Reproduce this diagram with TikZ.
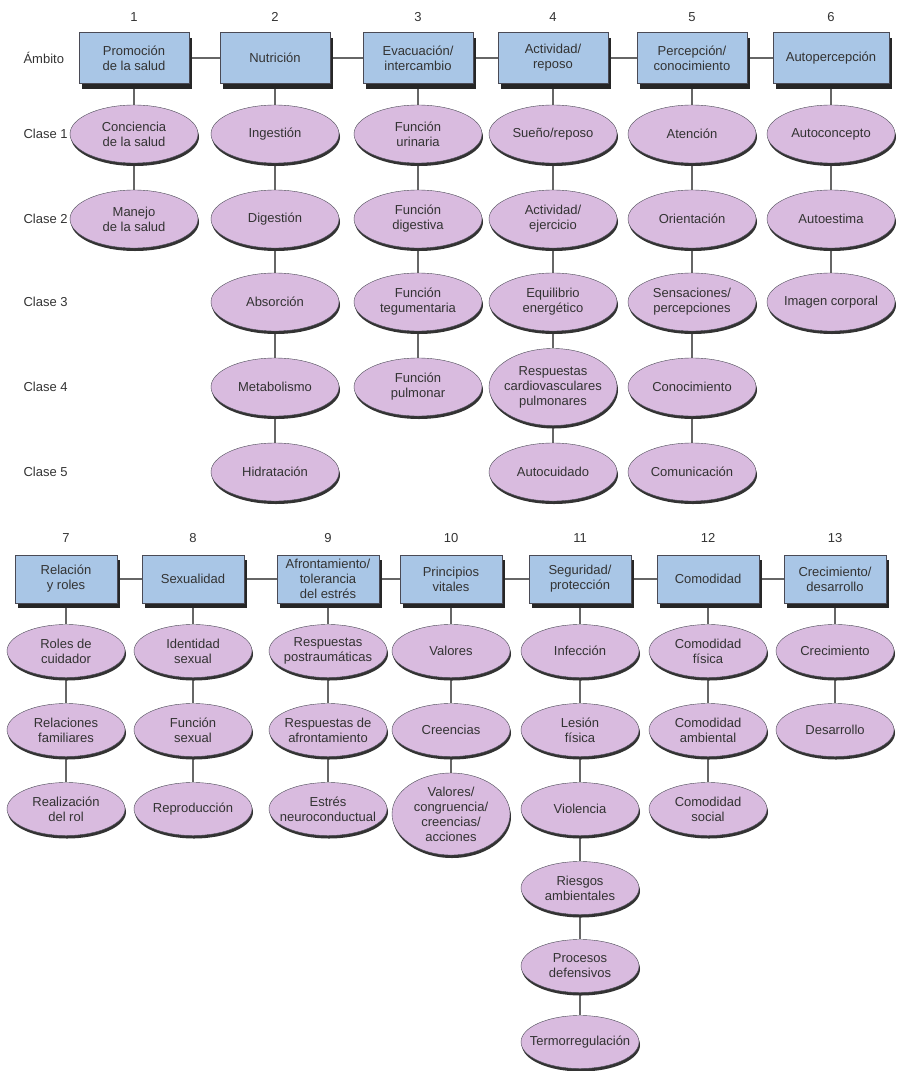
\documentclass[tikz,border=0pt]{standalone}
\usepackage{fontspec}
\setmainfont{Liberation Sans}
\usetikzlibrary{shapes.geometric,shadows,backgrounds}
\definecolor{azulamb}{HTML}{A9C6E6}
\definecolor{lilaclase}{HTML}{D9BBDF}
\definecolor{bordegris}{HTML}{4A4A55}
\definecolor{textogris}{HTML}{333333}

\begin{document}
\begin{tikzpicture}[x=1pt,y=-1pt,
  ambito/.style={rectangle,draw=bordegris,fill=azulamb,minimum width=110pt,minimum height=51pt,inner sep=1pt,align=center,
    drop shadow={shadow xshift=3pt,shadow yshift=-5pt,fill=black!85,opacity=1}},
  clase/.style={ellipse,draw=bordegris,fill=lilaclase,minimum width=128pt,minimum height=58pt,inner xsep=-16pt,inner ysep=-10pt,align=center,
    drop shadow={shadow xshift=1pt,shadow yshift=-3pt,fill=black!80,opacity=1}},
  enlace/.style={draw=black!60,line width=1.1pt}]%
        \useasboundingbox (0,0) rectangle (897,1071);%%
        \tikzstyle{every node}=[font=\fontsize{13}{15}\selectfont,text=textogris] %%
        % rotulos de fila
        \node[anchor=west] (lamb) at (20,58) {Ámbito}; %%
        \node[anchor=west] (lc1) at (20,134) {Clase 1}; %%
        \node[anchor=west] (lc2) at (20,219) {Clase 2}; %%
        \node[anchor=west] (lc3) at (20,302) {Clase 3}; %%
        \node[anchor=west] (lc4) at (20,387) {Clase 4}; %%
        \node[anchor=west] (lc5) at (20,472) {Clase 5}; %%
        % numeros
        \node (n1) at (134,17) {1}; %%
        \node (n2) at (275,17) {2}; %%
        \node (n3) at (418,17) {3}; %%
        \node (n4) at (553,17) {4}; %%
        \node (n5) at (692,17) {5}; %%
        \node (n6) at (831,17) {6}; %%
        \node (n7) at (66,538) {7}; %%
        \node (n8) at (193,538) {8}; %%
        \node (n9) at (328,538) {9}; %%
        \node (n10) at (451,538) {10}; %%
        \node (n11) at (580,538) {11}; %%
        \node (n12) at (708,538) {12}; %%
        \node (n13) at (835,538) {13}; %%
        % dominios 1-6
        \node[ambito] (d1) at (134,58) {Promoción\\de la salud}; %%
        \node[ambito] (d2) at (275,58) {Nutrición}; %%
        \node[ambito] (d3) at (418,58) {Evacuación/\\intercambio}; %%
        \node[ambito] (d4) at (553,58) {Actividad/\\reposo}; %%
        \node[ambito] (d5) at (692,58) {Percepción/\\conocimiento}; %%
        \node[ambito,minimum width=116pt] (d6) at (831,58) {Autopercepción}; %%
        % clases 1-6
        \node[clase] (c1r1) at (134,134) {Conciencia\\de la salud}; %%
        \node[clase] (c1r2) at (134,219) {Manejo\\de la salud}; %%
        \node[clase] (c2r1) at (275,134) {Ingestión}; %%
        \node[clase] (c2r2) at (275,219) {Digestión}; %%
        \node[clase] (c2r3) at (275,302) {Absorción}; %%
        \node[clase] (c2r4) at (275,387) {Metabolismo}; %%
        \node[clase] (c2r5) at (275,472) {Hidratación}; %%
        \node[clase] (c3r1) at (418,134) {Función\\urinaria}; %%
        \node[clase] (c3r2) at (418,219) {Función\\digestiva}; %%
        \node[clase] (c3r3) at (418,302) {Función\\tegumentaria}; %%
        \node[clase] (c3r4) at (418,387) {Función\\pulmonar}; %%
        \node[clase] (c4r1) at (553,134) {Sueño/reposo}; %%
        \node[clase] (c4r2) at (553,219) {Actividad/\\ejercicio}; %%
        \node[clase] (c4r3) at (553,302) {Equilibrio\\energético}; %%
        \node[clase,minimum height=77pt] (c4r4) at (553,387) {Respuestas\\cardiovasculares\\pulmonares}; %%
        \node[clase] (c4r5) at (553,472) {Autocuidado}; %%
        \node[clase] (c5r1) at (692,134) {Atención}; %%
        \node[clase] (c5r2) at (692,219) {Orientación}; %%
        \node[clase] (c5r3) at (692,302) {Sensaciones/\\percepciones}; %%
        \node[clase] (c5r4) at (692,387) {Conocimiento}; %%
        \node[clase] (c5r5) at (692,472) {Comunicación}; %%
        \node[clase] (c6r1) at (831,134) {Autoconcepto}; %%
        \node[clase] (c6r2) at (831,219) {Autoestima}; %%
        \node[clase] (c6r3) at (831,302) {Imagen corporal}; %%
        \begin{scope}[ambito/.append style={minimum width=102pt,minimum height=48pt},
                      clase/.append style={minimum width=118pt,minimum height=53pt}]
        % dominios 7-13
        \node[ambito] (d7) at (66,579) {Relación\\y roles}; %%
        \node[ambito] (d8) at (193,579) {Sexualidad}; %%
        \node[ambito] (d9) at (328,579) {Afrontamiento/\\tolerancia\\del estrés}; %%
        \node[ambito] (d10) at (451,579) {Principios\\vitales}; %%
        \node[ambito] (d11) at (580,579) {Seguridad/\\protección}; %%
        \node[ambito] (d12) at (708,579) {Comodidad}; %%
        \node[ambito] (d13) at (835,579) {Crecimiento/\\desarrollo}; %%
        % clases 7-13
        \node[clase] (c7r1) at (66,651) {Roles de\\cuidador}; %%
        \node[clase] (c7r2) at (66,730) {Relaciones\\familiares}; %%
        \node[clase] (c7r3) at (66,809) {Realización\\del rol}; %%
        \node[clase] (c8r1) at (193,651) {Identidad\\sexual}; %%
        \node[clase] (c8r2) at (193,730) {Función\\sexual}; %%
        \node[clase] (c8r3) at (193,809) {Reproducción}; %%
        \node[clase] (c9r1) at (328,651) {Respuestas\\postraumáticas}; %%
        \node[clase] (c9r2) at (328,730) {Respuestas de\\afrontamiento}; %%
        \node[clase] (c9r3) at (328,809) {Estrés\\neuroconductual}; %%
        \node[clase] (c10r1) at (451,651) {Valores}; %%
        \node[clase] (c10r2) at (451,730) {Creencias}; %%
        \node[clase,minimum height=82pt] (c10r3) at (451,814) {Valores/\\congruencia/\\creencias/\\acciones}; %%
        \node[clase] (c11r1) at (580,651) {Infección}; %%
        \node[clase] (c11r2) at (580,730) {Lesión\\física}; %%
        \node[clase] (c11r3) at (580,809) {Violencia}; %%
        \node[clase] (c11r4) at (580,888) {Riesgos\\ambientales}; %%
        \node[clase] (c11r5) at (580,966) {Procesos\\defensivos}; %%
        \node[clase] (c11r6) at (580,1042) {Termorregulación}; %%
        \node[clase] (c12r1) at (708,651) {Comodidad\\física}; %%
        \node[clase] (c12r2) at (708,730) {Comodidad\\ambiental}; %%
        \node[clase] (c12r3) at (708,809) {Comodidad\\social}; %%
        \node[clase] (c13r1) at (835,651) {Crecimiento}; %%
        \node[clase] (c13r2) at (835,730) {Desarrollo}; %%
        \end{scope}
        \begin{scope}[on background layer]
        \draw[enlace] (d1)--(d2) (d2)--(d3) (d3)--(d4) (d4)--(d5) (d5)--(d6); %%
        \draw[enlace] (d1)--(c1r1) (c1r1)--(c1r2); %%
        \draw[enlace] (d2)--(c2r1) (c2r1)--(c2r2) (c2r2)--(c2r3) (c2r3)--(c2r4) (c2r4)--(c2r5); %%
        \draw[enlace] (d3)--(c3r1) (c3r1)--(c3r2) (c3r2)--(c3r3) (c3r3)--(c3r4); %%
        \draw[enlace] (d4)--(c4r1) (c4r1)--(c4r2) (c4r2)--(c4r3) (c4r3)--(c4r4) (c4r4)--(c4r5); %%
        \draw[enlace] (d5)--(c5r1) (c5r1)--(c5r2) (c5r2)--(c5r3) (c5r3)--(c5r4) (c5r4)--(c5r5); %%
        \draw[enlace] (d6)--(c6r1) (c6r1)--(c6r2) (c6r2)--(c6r3); %%
        \draw[enlace] (d7)--(d8) (d8)--(d9) (d9)--(d10) (d10)--(d11) (d11)--(d12) (d12)--(d13); %%
        \draw[enlace] (d7)--(c7r1) (c7r1)--(c7r2) (c7r2)--(c7r3); %%
        \draw[enlace] (d8)--(c8r1) (c8r1)--(c8r2) (c8r2)--(c8r3); %%
        \draw[enlace] (d9)--(c9r1) (c9r1)--(c9r2) (c9r2)--(c9r3); %%
        \draw[enlace] (d10)--(c10r1) (c10r1)--(c10r2) (c10r2)--(c10r3); %%
        \draw[enlace] (d11)--(c11r1) (c11r1)--(c11r2) (c11r2)--(c11r3) (c11r3)--(c11r4) (c11r4)--(c11r5) (c11r5)--(c11r6); %%
        \draw[enlace] (d12)--(c12r1) (c12r1)--(c12r2) (c12r2)--(c12r3); %%
        \draw[enlace] (d13)--(c13r1) (c13r1)--(c13r2); %%
        \end{scope}
\end{tikzpicture}
\end{document}
